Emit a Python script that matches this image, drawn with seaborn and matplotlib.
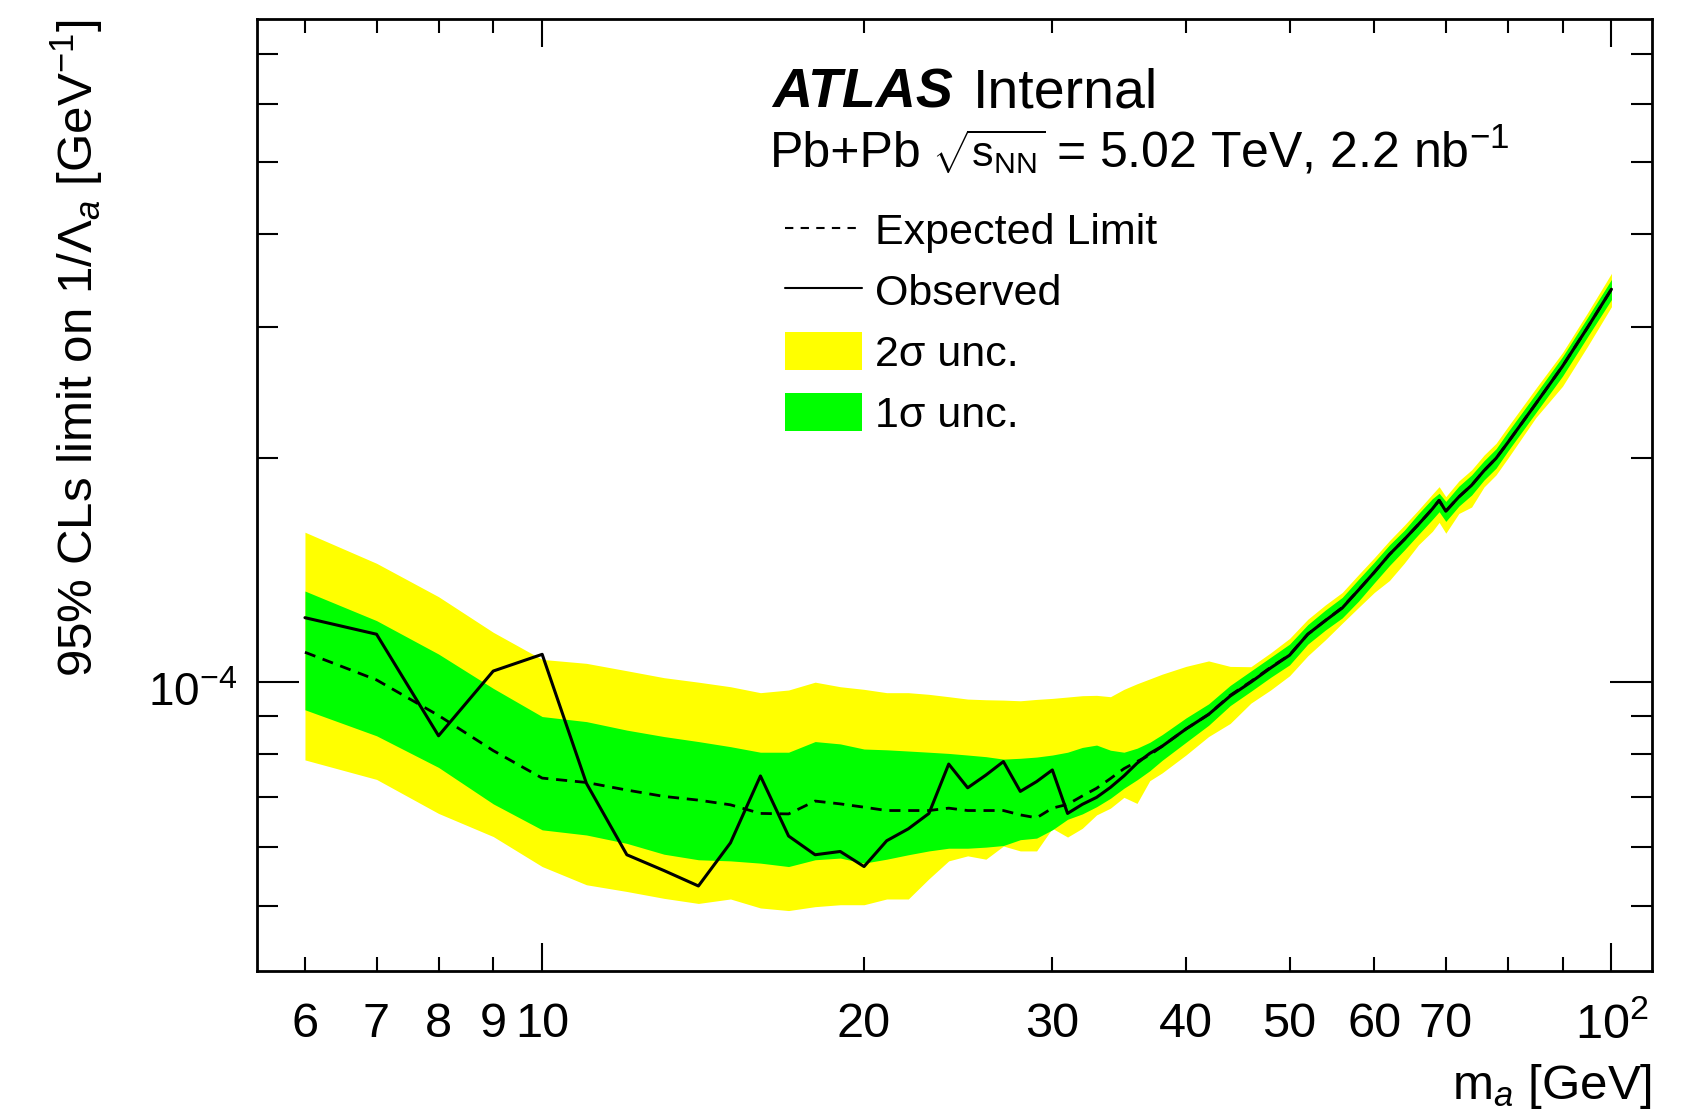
import numpy as np
import matplotlib
matplotlib.use("Agg")
import matplotlib.pyplot as plt
import matplotlib.transforms as mtransforms
from matplotlib.lines import Line2D
from matplotlib.patches import Patch
from matplotlib.ticker import FixedLocator, FixedFormatter, NullFormatter
import seaborn as sns

# values (limits in units of 1e-5 GeV^-1)
mass = [6, 7, 8, 9, 10, 11, 12, 13, 14, 15, 16, 17, 18, 19, 20, 21, 22, 23, 24, 25,
        26, 27, 28, 29, 30, 31, 32, 33, 34, 35, 36, 37, 38, 40, 42, 44, 46, 48, 50, 52,
        54, 56, 58, 60, 62, 64, 66, 68, 69, 70, 72, 74, 76, 78, 80, 85, 90, 95, 100]

observed = [12.21, 11.60, 8.47, 10.35, 10.90, 7.31, 5.86, 5.58, 5.32, 6.08,
            7.48, 6.21, 5.86, 5.92, 5.65, 6.12, 6.35, 6.66, 7.76, 7.21,
            7.50, 7.82, 7.13, 7.35, 7.62, 6.66, 6.85, 7.00, 7.22, 7.48,
            7.78, 8.02, 8.20, 8.65, 9.05, 9.58, 10.00, 10.45, 10.87, 11.60,
            12.10, 12.58, 13.30, 14.05, 14.85, 15.55, 16.30, 17.10, 17.56, 16.98,
            17.75, 18.40, 19.25, 20.00, 21.00, 23.70, 26.60, 30.00, 33.76]

expected = [10.97, 10.07, 9.02, 8.09, 7.43, 7.33, 7.16, 7.02, 6.94, 6.84,
            6.66, 6.65, 6.92, 6.86, 6.79, 6.72, 6.72, 6.72, 6.77, 6.72,
            6.72, 6.72, 6.63, 6.57, 6.77, 6.85, 7.03, 7.20, 7.42, 7.65,
            7.82, 7.98, 8.20, 8.65, 9.05, 9.60, 10.02, 10.47, 10.88, 11.60,
            12.10, 12.60, 13.30, 14.05, 14.85, 15.55, 16.30, 17.10, 17.56, 16.98,
            17.75, 18.40, 19.25, 20.00, 21.00, 23.70, 26.60, 30.00, 33.76]

sig1_up = [13.26, 12.10, 10.91, 9.81, 8.99, 8.85, 8.62, 8.45, 8.32, 8.19,
           8.05, 8.05, 8.32, 8.26, 8.13, 8.11, 8.08, 8.05, 8.02, 7.98,
           7.94, 7.88, 7.90, 7.93, 7.98, 8.05, 8.17, 8.23, 8.10, 8.05,
           8.15, 8.30, 8.50, 8.95, 9.35, 9.90, 10.35, 10.80, 11.25, 11.95,
           12.50, 13.00, 13.75, 14.50, 15.30, 16.00, 16.85, 17.65, 17.95, 17.50,
           18.35, 19.00, 19.85, 20.60, 21.70, 24.45, 27.40, 30.95, 34.80]

sig1_dn = [9.18, 8.47, 7.68, 6.86, 6.33, 6.23, 6.07, 5.87, 5.77, 5.75,
           5.71, 5.65, 5.77, 5.80, 5.71, 5.78, 5.86, 5.93, 5.98, 5.98,
           6.00, 6.03, 6.14, 6.17, 6.33, 6.54, 6.65, 6.80, 6.98, 7.20,
           7.39, 7.60, 7.85, 8.30, 8.75, 9.30, 9.72, 10.15, 10.55, 11.25,
           11.75, 12.20, 12.85, 13.60, 14.35, 15.05, 15.80, 16.55, 16.95, 16.45,
           17.25, 17.85, 18.70, 19.40, 20.45, 23.05, 25.80, 29.15, 32.70]

sig2_up = [15.91, 14.45, 13.03, 11.67, 10.73, 10.60, 10.36, 10.14, 10.00, 9.86,
           9.68, 9.76, 10.00, 9.86, 9.78, 9.68, 9.68, 9.63, 9.56, 9.49,
           9.47, 9.46, 9.44, 9.48, 9.51, 9.55, 9.59, 9.60, 9.56, 9.78,
           9.95, 10.10, 10.25, 10.50, 10.68, 10.50, 10.49, 10.95, 11.45, 12.15,
           12.70, 13.20, 13.95, 14.70, 15.50, 16.25, 17.05, 17.90, 18.32, 17.76,
           18.65, 19.30, 20.20, 20.95, 22.05, 24.85, 27.75, 31.40, 35.46]

sig2_dn = [7.86, 7.40, 6.66, 6.20, 5.65, 5.34, 5.23, 5.12, 5.04, 5.11,
           4.97, 4.93, 4.99, 5.02, 5.02, 5.11, 5.11, 5.44, 5.75, 5.84,
           5.78, 6.02, 5.93, 5.93, 6.36, 6.19, 6.36, 6.63, 6.77, 7.00,
           6.87, 7.37, 7.55, 7.98, 8.45, 8.80, 9.37, 9.76, 10.20, 10.85,
           11.40, 12.00, 12.60, 13.20, 13.70, 14.45, 15.30, 15.95, 16.40, 15.86,
           16.86, 17.20, 18.30, 19.00, 20.00, 22.70, 25.00, 28.30, 31.98]

x_major = [10, 100]
x_major_labels = ["10", r"$10^{2}$"]
x_minor = [6, 7, 8, 9, 20, 30, 40, 50, 60, 70, 80, 90]
x_minor_labels = ["6", "7", "8", "9", "20", "30", "40", "50", "60", "70", "", ""]
y_major = [1e-4]
y_major_labels = [r"$10^{-4}$"]
y_minor = [5e-5, 6e-5, 7e-5, 8e-5, 9e-5, 2e-4, 3e-4, 4e-4, 5e-4, 6e-4, 7e-4]

sns.set_style("ticks")
plt.rcParams["font.family"] = ["Liberation Sans", "DejaVu Sans"]
plt.rcParams["mathtext.fontset"] = "custom"
plt.rcParams["mathtext.rm"] = "Liberation Sans"
plt.rcParams["mathtext.it"] = "Liberation Sans:italic"
plt.rcParams["mathtext.bf"] = "Liberation Sans:bold"
for key in ["text.color", "axes.labelcolor", "xtick.color", "ytick.color", "axes.edgecolor"]:
    plt.rcParams[key] = "black"

scale = 1e-5
df = {
    "mass": np.array(mass, dtype=float),
    "obs": np.array(observed) * scale,
    "exp": np.array(expected) * scale,
}

fig = plt.figure(figsize=(16.9, 11.15), dpi=100)
ax = fig.add_axes([0.1518, 0.1291, 0.8259, 0.8535])

ax.fill_between(df["mass"], np.array(sig2_dn) * scale, np.array(sig2_up) * scale,
                color="#ffff00", lw=0)
ax.fill_between(df["mass"], np.array(sig1_dn) * scale, np.array(sig1_up) * scale,
                color="#00ff00", lw=0)
sns.lineplot(x=df["mass"], y=df["exp"], ax=ax, color="black", lw=2.0,
             linestyle=(0, (4, 2.8)), estimator=None, sort=False)
sns.lineplot(x=df["mass"], y=df["obs"], ax=ax, color="black", lw=2.2,
             estimator=None, sort=False)

ax.set_xscale("log")
ax.set_yscale("log")
ax.set_xlim(5.406, 109.2)
ax.set_ylim(4.088e-5, 7.785e-4)

ax.xaxis.set_major_locator(FixedLocator(x_major))
ax.xaxis.set_major_formatter(FixedFormatter(x_major_labels))
ax.xaxis.set_minor_locator(FixedLocator(x_minor))
ax.xaxis.set_minor_formatter(FixedFormatter(x_minor_labels))
ax.yaxis.set_major_locator(FixedLocator(y_major))
ax.yaxis.set_major_formatter(FixedFormatter(y_major_labels))
ax.yaxis.set_minor_locator(FixedLocator(y_minor))
ax.yaxis.set_minor_formatter(NullFormatter())

ax.tick_params(which="both", direction="in", top=True, right=True,
               width=1.5, color="black", labelcolor="black")
ax.tick_params(axis="x", which="both", labelsize=35, pad=22)
ax.tick_params(axis="x", which="major", length=20)
ax.tick_params(axis="x", which="minor", length=10)
ax.tick_params(axis="y", which="major", length=30, pad=14, labelsize=33)
ax.tick_params(axis="y", which="minor", length=15)
for sp in ax.spines.values():
    sp.set_linewidth(2.0)
    sp.set_color("black")

# nudge the 10^-4 label down a little, like the ROOT layout
shift = mtransforms.ScaledTranslation(0, -5 / 72, fig.dpi_scale_trans)
for lab in ax.get_yticklabels():
    lab.set_transform(lab.get_transform() + shift)

ax.set_xlabel(r"m$_{a}$ [GeV]", fontsize=35.5, loc="right")
ax.xaxis.set_label_coords(1.0, -0.096)
ax.set_ylabel(r"95% CLs limit on 1/$\Lambda_{a}$ [GeV$^{-1}$]", fontsize=35.5, loc="top")
ax.yaxis.set_label_coords(-0.108, 1.0)

ax.text(0.3691, 0.9071, "ATLAS", transform=ax.transAxes, fontsize=40,
        fontweight="bold", fontstyle="italic", va="baseline")
ax.text(0.5135, 0.9071, "Internal", transform=ax.transAxes, fontsize=40, va="baseline")
ax.text(0.3676, 0.8449, "Pb+Pb", transform=ax.transAxes, fontsize=36, va="baseline")
ax.text(0.4840, 0.8449, r"$\sqrt{\mathrm{s}_{\mathrm{NN}}}$", transform=ax.transAxes,
        fontsize=31, va="baseline")
ax.text(0.5729, 0.8449, r"= 5.02 TeV, 2.2 nb$^{\mathrm{-1}}$", transform=ax.transAxes,
        fontsize=36, va="baseline")

handles = [
    Line2D([], [], color="black", lw=1.5, linestyle=(0, (4, 3.5))),
    Line2D([], [], color="black", lw=1.5),
    Patch(facecolor="#ffff00", edgecolor="none"),
    Patch(facecolor="#00ff00", edgecolor="none"),
]
labels = ["Expected Limit", "Observed", "2σ unc.", "1σ unc."]
fig.legend(handles, labels, loc="upper left", bbox_to_anchor=(0.4643, 0.8110),
           frameon=False, fontsize=31, handlelength=1.8, handleheight=0.98,
           handletextpad=0.3, labelspacing=0.42, borderpad=0, borderaxespad=0)

fig.savefig("out.png", dpi=100)
